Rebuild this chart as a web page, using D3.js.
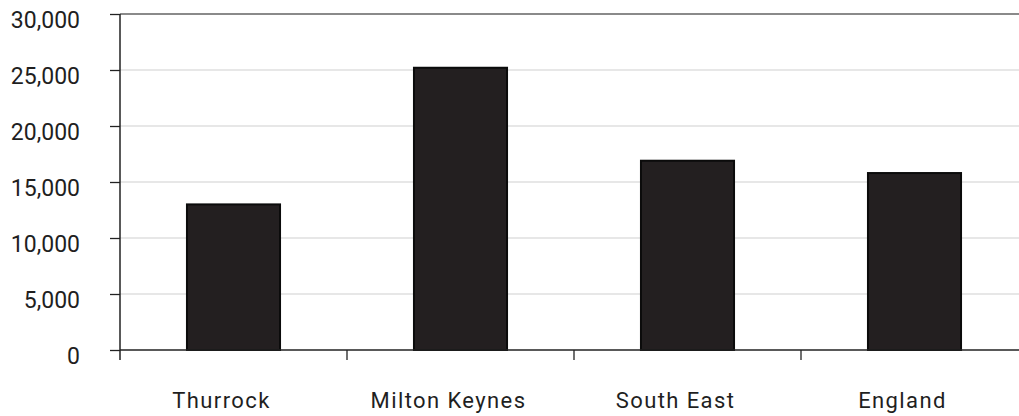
<!DOCTYPE html>
<html>
<head>
<meta charset="utf-8">
<script src="https://cdn.jsdelivr.net/npm/d3@7"></script>
<style>
  html, body { margin: 0; padding: 0; background: #fff; overflow: hidden; }
  svg { display: block; }
  text { font-family: Roboto, "Noto Sans", sans-serif; fill: #1f1f1f; }
</style>
</head>
<body>
<svg id="chart" width="1019" height="416"></svg>
<script>
// Areas compared
const categories = ["Thurrock", "Milton Keynes", "South East", "England"];
const values = [13000, 25200, 16900, 15800];
const yTicks = [0, 5000, 10000, 15000, 20000, 25000, 30000];

const svg = d3.select("#chart");
const plotLeft = 120, plotRight = 1028, plotTop = 14, plotBottom = 350;

const x = d3.scaleBand().domain(categories).range([plotLeft, plotRight])
  .paddingInner(0.59).paddingOuter(0.295);
const xStep = d3.scaleBand().domain(categories).range([plotLeft, plotRight]).padding(0);
const y = d3.scaleLinear().domain([0, 30000]).range([plotBottom, plotTop]);
const fmt = d3.format(",");

// Horizontal gridlines
svg.append("g").selectAll("line").data(yTicks.filter(t => t > 0 && t < 30000)).join("line")
  .attr("x1", plotLeft).attr("x2", plotRight)
  .attr("y1", d => y(d)).attr("y2", d => y(d))
  .attr("stroke", "#cfcfcf").attr("stroke-width", 1);

// Top frame line
svg.append("line").attr("x1", plotLeft).attr("x2", plotRight)
  .attr("y1", y(30000)).attr("y2", y(30000))
  .attr("stroke", "#8a8a8a").attr("stroke-width", 2);

// Bars
svg.append("g").selectAll("rect").data(categories).join("rect")
  .attr("x", d => x(d))
  .attr("y", (d, i) => y(values[i]))
  .attr("width", x.bandwidth())
  .attr("height", (d, i) => y(0) - y(values[i]))
  .attr("fill", "#231f20")
  .attr("stroke", "#0b0b0b").attr("stroke-width", 2);

// Y axis
const yAxis = d3.axisLeft(y).tickValues(yTicks).tickFormat(fmt).tickSize(10).tickPadding(30);
const gy = svg.append("g").attr("transform", `translate(${plotLeft},0)`).call(yAxis);
gy.select(".domain").remove();
gy.selectAll(".tick line").attr("stroke", "#222").attr("stroke-width", 1.3);
gy.selectAll(".tick text").attr("font-size", 23).attr("dy", null)
  .attr("y", 13).attr("fill", "#1f1f1f").attr("font-family", "Roboto, sans-serif");
svg.append("line").attr("x1", plotLeft).attr("x2", plotLeft)
  .attr("y1", plotTop).attr("y2", plotBottom + 10)
  .attr("stroke", "#222").attr("stroke-width", 1.5);

// X axis: baseline and boundary ticks
svg.append("line").attr("x1", plotLeft).attr("x2", plotRight)
  .attr("y1", plotBottom).attr("y2", plotBottom)
  .attr("stroke", "#222").attr("stroke-width", 1.5);
svg.append("g").selectAll("line").data(categories.slice(1)).join("line")
  .attr("x1", d => xStep(d)).attr("x2", d => xStep(d))
  .attr("y1", plotBottom).attr("y2", plotBottom + 10)
  .attr("stroke", "#222").attr("stroke-width", 1.3);

// Category labels
svg.append("g").selectAll("text").data(categories).join("text")
  .attr("x", d => x(d) + x.bandwidth() / 2 - 12)
  .attr("y", 408)
  .attr("text-anchor", "middle")
  .attr("font-size", 22)
  .attr("letter-spacing", 1.4)
  .text(d => d);
</script>
</body>
</html>
